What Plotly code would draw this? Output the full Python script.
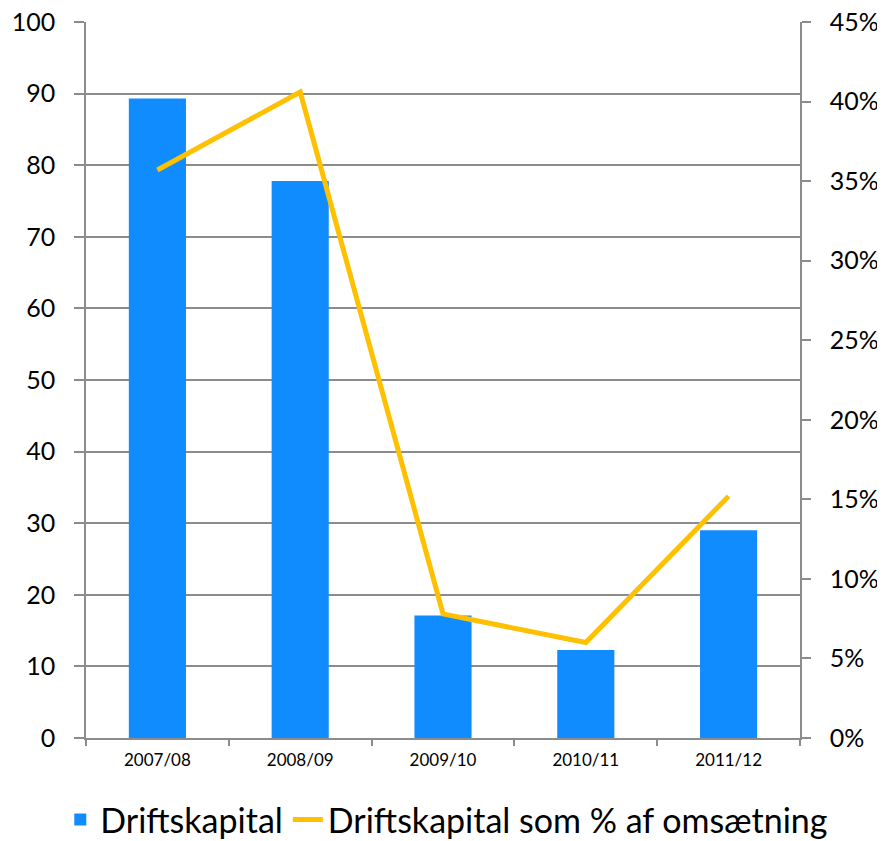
import plotly.graph_objects as go

categories = ["2007/08", "2008/09", "2009/10", "2010/11", "2011/12"]
driftskapital = [89.3, 77.8, 17.1, 12.3, 29.0]
pct_omsaetning = [35.7, 40.6, 7.8, 6.0, 15.2]

left_ticks = [0, 10, 20, 30, 40, 50, 60, 70, 80, 90, 100]
right_ticks = [0, 5, 10, 15, 20, 25, 30, 35, 40, 45]
right_labels = [f"{v}%" for v in right_ticks]

FONT = "Lato, 'Open Sans', sans-serif"
GRID = "#8c8c8c"

fig = go.Figure()
fig.add_trace(go.Bar(
    x=categories, y=driftskapital, name="Driftskapital",
    marker=dict(color="#108CFF", line=dict(width=0)), width=0.4,
))
fig.add_trace(go.Scatter(
    x=categories, y=pct_omsaetning, name="Driftskapital som % af omsætning",
    mode="lines", line=dict(color="#FFC000", width=5), yaxis="y2",
))

# page body has an 8px margin, so the figure is made 8px smaller and shifted
fig.update_layout(
    width=877, height=833,
    margin=dict(l=78, r=85, t=14, b=103, autoexpand=False),
    paper_bgcolor="white", plot_bgcolor="white",
    font=dict(family=FONT, color="black"),
    showlegend=True,
    legend=dict(
        orientation="h", x=-0.036, xanchor="left",
        y=-0.074, yanchor="top",
        font=dict(size=34, family=FONT), itemwidth=30, tracegroupgap=0,
        traceorder="normal",
    ),
    xaxis=dict(
        type="category", range=[-0.5, 4.5], automargin=False,
        tickson="boundaries", ticks="outside", ticklen=6, tickcolor=GRID, tickwidth=1.5,
        showline=True, linecolor=GRID, linewidth=1.5,
        showgrid=False, tickfont=dict(size=17, family=FONT), ticklabelstandoff=6,
    ),
    yaxis=dict(
        range=[0, 100], tickvals=left_ticks, automargin=False,
        ticklabeloverflow="allow",
        showgrid=True, gridcolor=GRID, gridwidth=1.5,
        ticks="outside", ticklen=10, tickcolor=GRID, tickwidth=1.5,
        showline=True, linecolor=GRID, linewidth=1.5,
        zeroline=False, tickfont=dict(size=25, family=FONT), ticklabelstandoff=14,
    ),
    yaxis2=dict(
        range=[0, 45], tickvals=right_ticks, ticktext=right_labels, automargin=False,
        ticklabeloverflow="allow",
        overlaying="y", side="right", showgrid=False,
        ticks="outside", ticklen=9, tickcolor=GRID, tickwidth=1.5,
        showline=True, linecolor=GRID, linewidth=1.5,
        zeroline=False, tickfont=dict(size=25, family=FONT), ticklabelstandoff=14,
    ),
)

fig.write_html("out.html")
